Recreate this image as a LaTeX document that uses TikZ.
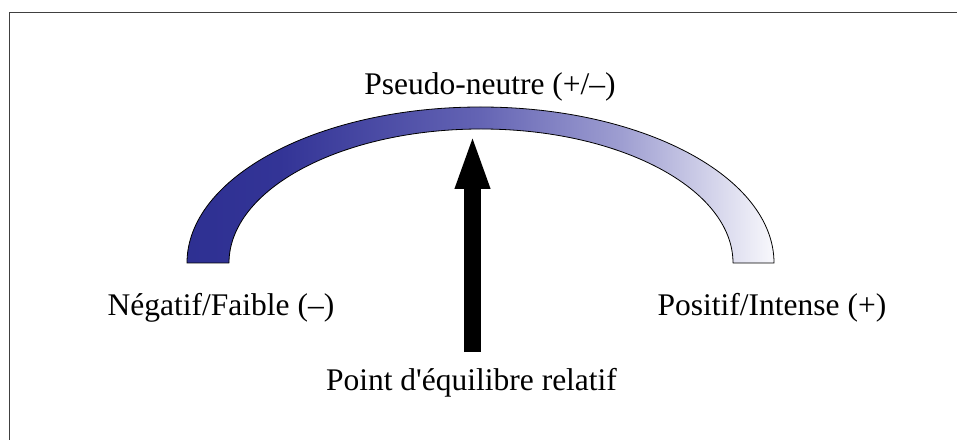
\documentclass[tikz,border=0pt]{standalone}
\usepackage{fontspec}
\setmainfont{Liberation Serif}
\usetikzlibrary{arrows.meta}
\definecolor{frameC}{RGB}{64,64,64}
\pgfdeclarehorizontalshading{arcshade}{100bp}{%
  rgb(0bp)=(0.180,0.188,0.573);
  rgb(25bp)=(0.180,0.188,0.573);
  rgb(33bp)=(0.200,0.204,0.590);
  rgb(50bp)=(0.392,0.392,0.706);
  rgb(62bp)=(0.620,0.620,0.820);
  rgb(75bp)=(0.973,0.973,0.988);
  rgb(100bp)=(0.973,0.973,0.988)}
\tikzset{
  lbl/.style={anchor=base, inner sep=0pt, font=\fontsize{31.5}{38}\selectfont},
  bigarrow/.style={line width=17pt, -{Triangle[length=56pt,width=31pt]}},
}
\begin{document}
\begin{tikzpicture}[x=1pt,y=1pt]
\useasboundingbox (0,0) rectangle (957,439);
\draw[frameC, line width=1.3pt] (9.5,-2) -- (9.5,426.5) -- (959,426.5);
% arc
\draw[shading=arcshade, line width=0.8pt, line join=round]
  (187,176) arc[start angle=180, end angle=0, x radius=293.5, y radius=156]
  -- (733,176) arc[start angle=0, end angle=180, x radius=252, y radius=134] -- cycle;
\node[lbl] (top) at (490,344) {Pseudo-neutre (+/–)};
\node[lbl] (neg) at (221,124) {Négatif/Faible (–)};
\node[lbl] (pos) at (772,124) {Positif/Intense (+)};
\node[lbl] (pt) at (471.5,49) {Point d\textquotesingle équilibre relatif};
\coordinate (abase) at (472.5,87);
\coordinate (atip) at (472.5,306);
\draw[bigarrow] (abase) -- (atip);
\end{tikzpicture}
\end{document}
